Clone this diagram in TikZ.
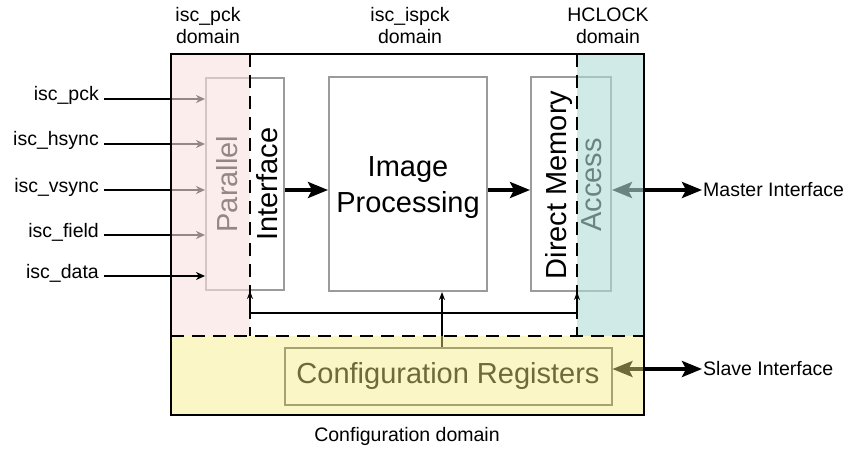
\documentclass[tikz,border=0pt]{standalone}
\usepackage{fontspec}
\setmainfont{Liberation Sans}
\usetikzlibrary{arrows.meta}
\definecolor{boxgray}{RGB}{155,155,155}
\definecolor{pckdom}{RGB}{248,225,222}
\definecolor{hclkdom}{RGB}{178,222,215}
\definecolor{cfgdom}{RGB}{244,236,127}
\begin{document}
\begin{tikzpicture}[x=1pt,y=-1pt,
 lbl/.style={font=\fontsize{19.5}{22}\selectfont,inner sep=1pt},
 big/.style={font=\fontsize{29}{36}\selectfont,align=center,inner sep=0pt},
 blk/.style={draw=boxgray,line width=2pt,inner sep=0pt},
 inarr/.style={line width=2.2pt,-{Stealth[length=9pt,width=8pt]}},
 ctl/.style={line width=1.6pt},
 ctlarr/.style={ctl,-{Stealth[length=8pt,width=6pt]}},
 bigarr/.style={line width=3.5pt,-{Stealth[length=20pt,width=16pt,inset=4pt]}},
 biarr/.style={line width=3.5pt,{Stealth[length=20pt,width=16pt,inset=4pt]}-{Stealth[length=20pt,width=16pt,inset=4pt]}},
 dom/.style={line width=2.5pt,dash pattern=on 13pt off 8pt}]
 \fill[white] (0,0) rectangle (850,449); \useasboundingbox (0,0) rectangle (850,449);
 % blocks
 \node[blk,minimum width=78,minimum height=212] (par) at (245,184) {};
 \node[blk,minimum width=158,minimum height=214] (img) at (408,184) {};
 \node[blk,minimum width=80,minimum height=214] (dma) at (571,184) {};
 \node[draw=black!60,line width=2pt,minimum width=327,minimum height=57] (cfg) at (448,376) {};
 \node[big,rotate=90,font=\fontsize{29}{40}\selectfont] (partxt) at (247,184) {Parallel\\Interface};
 \node[big] (imgtxt) at (408,188) {Image\\Processing};
 \node[big,rotate=90,font=\fontsize{29}{35}\selectfont] (dmatxt) at (574,185) {Direct Memory\\Access};
 \node[big] (cfgtxt) at (cfg) {Configuration Registers};
 % inputs
 \foreach \y/\s in {99/pck,144/hsync,190/vsync,235/field}{
  \node[lbl,anchor=base east] (l\s) at (100,\y+2) {isc\_\s};
  \coordinate (s\s) at (104,\y); \draw[inarr] (s\s) -- (s\s -| par.west);}
 \draw[bigarr] ([yshift=-6pt]par.east) -- ([yshift=-6pt]img.west);
 \draw[bigarr] ([yshift=-6pt]img.east) -- ([yshift=-6pt]dma.west);
 \node[lbl,anchor=west] (mst) at (702,190) {Master Interface};
 \node[lbl,anchor=west] (slv) at (702,369) {Slave Interface};
 \draw[biarr] (dma.east |- mst.west) -- (mst.west);
 \draw[biarr] (cfg.east |- slv.west) -- (slv.west);
 \draw[ctlarr] ([xshift=-6pt]cfg.north) -- ([xshift=-6pt]cfg.north |- img.south);
 % clock domains
 \fill[pckdom,fill opacity=.6] (171,54) rectangle (250,336);
 \fill[hclkdom,fill opacity=.6] (577,54) rectangle (644,336);
 \fill[cfgdom,fill opacity=.45] (171,336) rectangle (644,415);
 \draw[dom] (250,54) -- (250,336); \draw[dom] (577,54) -- (577,336); \draw[dom] (171,336) -- (644,336);
 \draw[line width=2pt] (171,54) rectangle (644,415);
 \node[lbl,anchor=base east] (ldata) at (100,278) {isc\_data};
 \coordinate (sdata) at (104,276); \draw[inarr] (sdata) -- (sdata -| par.west);
 \coordinate (cl) at (250,313); \coordinate (cr) at (577,313);
 \draw[ctl] (cl) -- (cr); \draw[ctlarr] (cl) -- (cl |- par.south); \draw[ctlarr] (cr) -- (cr |- dma.south);
 \node[lbl,align=center] (dpck) at (208,26) {isc\_pck\\domain};
 \node[lbl,align=center] (dispck) at (410,26) {isc\_ispck\\domain};
 \node[lbl,align=center] (dhclk) at (608,26) {HCLOCK\\domain};
 \node[lbl] (dcfg) at (407,436) {Configuration domain};
\end{tikzpicture}
\end{document}
